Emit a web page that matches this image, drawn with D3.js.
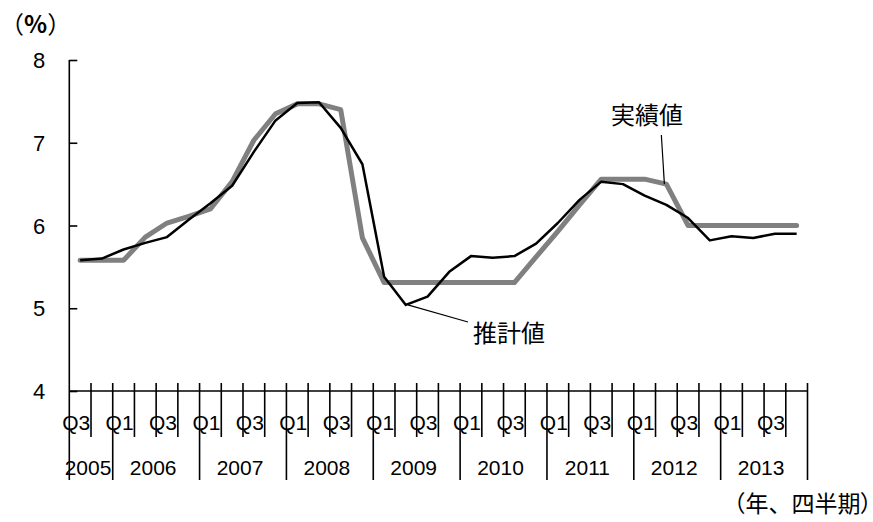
<!DOCTYPE html>
<html>
<head>
<meta charset="utf-8">
<script src="https://cdn.jsdelivr.net/npm/d3@7"></script>
<style>
  html, body { margin: 0; padding: 0; background: #fff; }
  svg { display: block; }
  .num { font-family: "Liberation Sans", Arial, sans-serif; fill: #000; }
  .jp { font-family: "Noto Sans CJK JP", sans-serif; fill: #000; }
  .palt { font-feature-settings: "palt"; }
</style>
</head>
<body>
<svg id="chart" width="873" height="522"></svg>
<script>
// ---- data ----
const periods = [
  "2005Q3","2005Q4",
  "2006Q1","2006Q2","2006Q3","2006Q4",
  "2007Q1","2007Q2","2007Q3","2007Q4",
  "2008Q1","2008Q2","2008Q3","2008Q4",
  "2009Q1","2009Q2","2009Q3","2009Q4",
  "2010Q1","2010Q2","2010Q3","2010Q4",
  "2011Q1","2011Q2","2011Q3","2011Q4",
  "2012Q1","2012Q2","2012Q3","2012Q4",
  "2013Q1","2013Q2","2013Q3","2013Q4"
];
const quarterTickLabels = ["Q3","Q4","Q1","Q2","Q3","Q4","Q1","Q2","Q3","Q4","Q1","Q2","Q3","Q4","Q1","Q2","Q3","Q4",
                           "Q1","Q2","Q3","Q4","Q1","Q2","Q3","Q4","Q1","Q2","Q3","Q4","Q1","Q2","Q3","Q4"];
const years = ["2005","2006","2007","2008","2009","2010","2011","2012","2013"];
// actual (実績値)
const actual = [5.58,5.58,5.58,5.86,6.03,6.11,6.20,6.53,7.03,7.35,7.47,7.47,7.40,5.85,5.31,5.31,5.31,5.31,
                5.31,5.31,5.31,5.62,5.93,6.25,6.56,6.56,6.56,6.50,6.00,6.00,6.00,6.00,6.00,6.00];
// estimate (推計値)
const estimate = [5.58,5.60,5.71,5.79,5.86,6.07,6.27,6.48,6.89,7.27,7.48,7.49,7.18,6.74,5.38,5.04,5.14,5.44,
                  5.63,5.61,5.63,5.78,6.03,6.31,6.53,6.50,6.36,6.25,6.09,5.82,5.87,5.85,5.90,5.90];
const yTicks = [4,5,6,7,8];

// ---- layout ----
const svg = d3.select("#chart");
const pL = 69.3, pR = 807.5, pT = 60, pB = 391;
const x = d3.scaleBand().domain(periods).range([pL, pR]).paddingInner(0).paddingOuter(0);
const bw = x.bandwidth();
const cx = p => x(p) + bw / 2;
const y = d3.scaleLinear().domain([4, 8]).range([pB, pT]);

// y axis
const yAxis = d3.axisLeft(y).tickValues(yTicks).tickSize(-8).tickPadding(24).tickFormat(d3.format("d"));
const gy = svg.append("g").attr("transform", `translate(${pL},0)`).call(yAxis);
gy.select(".domain").remove();
gy.selectAll(".tick line").attr("stroke", "#000").attr("stroke-width", 1.6);
gy.selectAll(".tick text").attr("class", "num").style("font-size", "22px").attr("dy", "0.35em").attr("fill", "#000");
svg.append("line").attr("x1", pL).attr("x2", pL).attr("y1", pT).attr("y2", 480)
  .attr("stroke", "#000").attr("stroke-width", 1.6);

// x axis line
svg.append("line").attr("x1", pL).attr("x2", pR).attr("y1", pB).attr("y2", pB)
  .attr("stroke", "#000").attr("stroke-width", 1.6);

// boundaries
const boundaries = periods.map(p => x(p)).concat([pR]);
const yearStart = periods.map((p, i) => (i === 0 || p.endsWith("Q1")) ? i : -1).filter(i => i >= 0).concat([periods.length]);
boundaries.forEach((bx, i) => {
  const isYear = yearStart.includes(i);
  if (i === 0) return;
  svg.append("line").attr("x1", bx).attr("x2", bx).attr("y1", 383).attr("y2", isYear ? 480 : 437)
    .attr("stroke", "#000").attr("stroke-width", 1.6);
});

// quarter labels (every other quarter)
periods.forEach((p, i) => {
  if (i % 2 !== 0) return;
  svg.append("text").attr("class", "num").attr("x", cx(p) - 4).attr("y", 430)
    .attr("text-anchor", "middle").style("font-size", "21px").text(quarterTickLabels[i]);
});
// year labels
years.forEach((yr, k) => {
  const a = boundaries[yearStart[k]], b = boundaries[yearStart[k + 1]];
  svg.append("text").attr("class", "num").attr("x", (a + b) / 2 - 3).attr("y", 475)
    .attr("text-anchor", "middle").style("font-size", "21px").text(yr);
});

// lines
const line = d3.line().x((d, i) => cx(periods[i])).y(d => y(d));
svg.append("path").datum(actual).attr("d", line).attr("fill", "none")
  .attr("stroke", "#808080").attr("stroke-width", 5).attr("stroke-linejoin", "round").attr("stroke-linecap", "round");
svg.append("path").datum(estimate).attr("d", line).attr("fill", "none")
  .attr("stroke", "#000").attr("stroke-width", 2.5).attr("stroke-linejoin", "round");

// annotations
const ia = 27;
svg.append("line").attr("x1", cx(periods[ia]) - 5).attr("y1", 135).attr("x2", cx(periods[ia]) - 2).attr("y2", y(actual[ia]))
  .attr("stroke", "#000").attr("stroke-width", 1.2);
svg.append("text").attr("class", "jp").attr("x", 611).attr("y", 124).style("font-size", "24px").text("実績値");

const ie = 15;
svg.append("line").attr("x1", cx(periods[ie]) + 2).attr("y1", y(estimate[ie])).attr("x2", 468).attr("y2", 322)
  .attr("stroke", "#000").attr("stroke-width", 1.2);
svg.append("text").attr("class", "jp").attr("x", 473).attr("y", 342).style("font-size", "24px").text("推計値");

const pctText = svg.append("text").attr("class", "jp").attr("x", 0).attr("y", 33).style("font-size", "24px");
pctText.append("tspan").text("（");
pctText.append("tspan").attr("font-weight", "bold").text("%");
pctText.append("tspan").text("）");
const unitText = svg.append("text").attr("class", "jp").attr("x", 872).attr("y", 512)
  .attr("text-anchor", "end").style("font-size", "23px");
unitText.append("tspan").text("（年、四半期");
unitText.append("tspan").attr("class", "palt").text("）");
</script>
</body>
</html>
